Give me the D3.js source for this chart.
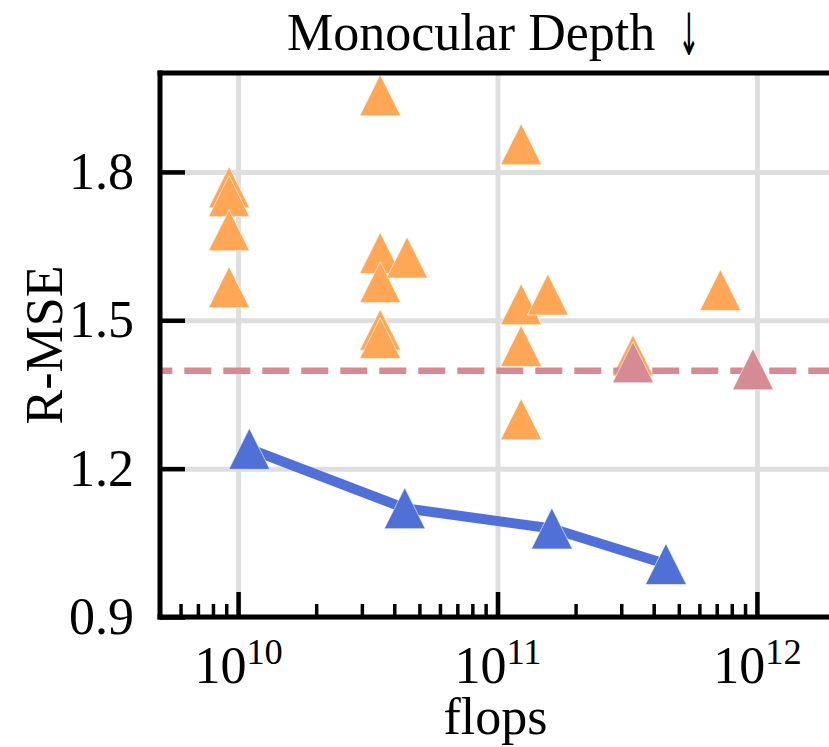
<!DOCTYPE html>
<html><head><meta charset="utf-8">
<script src="https://cdn.jsdelivr.net/npm/d3@7"></script>
<style>
body{margin:0;background:#fff;}
text{font-family:"Liberation Serif","Times New Roman",serif;fill:#000;}
</style>
</head><body>
<svg id="c" width="829" height="747"></svg>
<script>
// ---- data ----
const baselineFlops = [3.53e10, 9.23e9, 9.23e9, 9.23e9, 9.23e9, 3.53e10, 3.53e10, 3.53e10, 3.53e10, 4.48e10,
                       1.233e11, 1.233e11, 1.233e11, 1.233e11, 1.563e11, 3.33e11, 7.23e11];
const baselineRmse  = [1.955, 1.769, 1.751, 1.682, 1.567, 1.636, 1.577, 1.481, 1.464, 1.627,
                       1.856, 1.5325, 1.448, 1.300, 1.552, 1.429, 1.561];
const refFlops = [3.33e11, 9.66e11];
const refRmse  = [1.415, 1.401];
const refLineValue = 1.398;
const oursFlops = [1.105e10, 4.39e10, 1.62e11, 4.46e11];
const oursRmse  = [1.240, 1.120, 1.079, 1.007];
const xMajorTicks = [1e10, 1e11, 1e12];
const xTickExponents = ["10", "11", "12"];
const xMinorTicks = [6e9,7e9,8e9,9e9, 2e10,3e10,4e10,5e10,6e10,7e10,8e10,9e10,
                     2e11,3e11,4e11,5e11,6e11,7e11,8e11,9e11];
const yTicks = [0.9, 1.2, 1.5, 1.8];
const yTickLabels = ["0.9", "1.2", "1.5", "1.8"];
const titleText = "Monocular Depth";
const titleArrow = "\u2193";
const xLabel = "flops";
const yLabel = "R-MSE";

// ---- layout ----
const L = 160, R = 835, T = 73, B = 617;
const svg = d3.select("#c");
const x = d3.scaleLog().domain([5e9, 2e12]).range([L, R]);
const y = d3.scaleLinear().domain([0.9, 2.0]).range([B, T]);

const C = {orange:"#ffa756", pink:"#d58a94", blue:"#5170d7", grid:"#dedede"};
const FS = 52;

// grid
const gx = svg.append("g").attr("transform",`translate(0,${B})`)
  .call(d3.axisBottom(x).tickValues(xMajorTicks).tickSize(-(B-T)).tickFormat(""));
gx.select(".domain").remove();
gx.selectAll("line").attr("stroke",C.grid).attr("stroke-width",5);
const gy = svg.append("g").attr("transform",`translate(${L},0)`)
  .call(d3.axisLeft(y).tickValues(yTicks).tickSize(-(R-L)).tickFormat(""));
gy.select(".domain").remove();
gy.selectAll("line").attr("stroke",C.grid).attr("stroke-width",5);

// triangle marker path (width = height = 2h, centred midway)
const h = 20.5;
const tri = `M0,${-h}L${h},${h}L${-h},${h}Z`;

// baseline scatter
svg.append("g").selectAll("path").data(baselineFlops.map((f,i)=>[f,baselineRmse[i]]))
  .join("path").attr("d",tri)
  .attr("transform",d=>`translate(${x(d[0])},${y(d[1])})`)
  .attr("fill",C.orange).attr("stroke","#fff").attr("stroke-width",0.6);

// reference dashed line + markers
svg.append("line").attr("x1",L).attr("x2",R).attr("y1",y(refLineValue)).attr("y2",y(refLineValue))
  .attr("stroke",C.pink).attr("stroke-width",6.5).attr("stroke-dasharray","27,12").attr("stroke-dashoffset",14.7);
svg.append("g").selectAll("path").data(refFlops.map((f,i)=>[f,refRmse[i]]))
  .join("path").attr("d",tri)
  .attr("transform",d=>`translate(${x(d[0])},${y(d[1])})`)
  .attr("fill",C.pink).attr("stroke","#fff").attr("stroke-width",0.6);

// ours line + markers
const oursData = oursFlops.map((f,i)=>[f,oursRmse[i]]);
svg.append("path").datum(oursData)
  .attr("d",d3.line().x(d=>x(d[0])).y(d=>y(d[1])))
  .attr("fill","none").attr("stroke",C.blue).attr("stroke-width",10).attr("stroke-linejoin","round");
svg.append("g").selectAll("path").data(oursData)
  .join("path").attr("d",tri)
  .attr("transform",d=>`translate(${x(d[0])},${y(d[1])})`)
  .attr("fill",C.blue).attr("stroke","#fff").attr("stroke-width",0.6);

// axes ticks
const ax = svg.append("g").attr("transform",`translate(0,${B})`)
  .call(d3.axisBottom(x).tickValues(xMajorTicks).tickSize(-25).tickFormat(""));
ax.select(".domain").remove();
ax.selectAll("line").attr("stroke","#000").attr("stroke-width",4.5);
ax.selectAll(".tick").each(function(d,i){
  const t = d3.select(this).append("text").attr("y",66).attr("text-anchor","middle")
    .attr("font-size",FS);
  t.append("tspan").text("10");
  t.append("tspan").attr("font-size",FS*0.7).attr("dy",-19).text(xTickExponents[i]);
});
const axm = svg.append("g").attr("transform",`translate(0,${B})`)
  .call(d3.axisBottom(x).tickValues(xMinorTicks).tickSize(-13).tickFormat(""));
axm.select(".domain").remove();
axm.selectAll("line").attr("stroke","#000").attr("stroke-width",3.5);

const ay = svg.append("g").attr("transform",`translate(${L},0)`)
  .call(d3.axisLeft(y).tickValues(yTicks).tickSize(-25).tickPadding(26).tickFormat((d,i)=>yTickLabels[i]));
ay.select(".domain").remove();
ay.selectAll("line").attr("stroke","#000").attr("stroke-width",4.5);
ay.selectAll("text").attr("font-size",FS).attr("font-family",null);

// spines
const sp = svg.append("g").attr("stroke","#000").attr("stroke-width",5).attr("stroke-linecap","square");
sp.append("line").attr("x1",L).attr("x2",L).attr("y1",T).attr("y2",B);
sp.append("line").attr("x1",L).attr("x2",R).attr("y1",B).attr("y2",B);
sp.append("line").attr("x1",L).attr("x2",R).attr("y1",T).attr("y2",T);
sp.append("line").attr("x1",R).attr("x2",R).attr("y1",T).attr("y2",B);

// labels
svg.append("text").attr("x",287).attr("y",49.5).attr("text-anchor","start").attr("font-size",FS).text(titleText);
svg.append("text").attr("transform","translate(689,55) scale(0.5,1.12)").attr("text-anchor","middle")
  .style("font-family","'DejaVu Sans'").attr("font-size",52).text(titleArrow);
svg.append("text").attr("x",(L+R)/2 - 2).attr("y",734).attr("text-anchor","middle").attr("font-size",FS).text(xLabel);
svg.append("text").attr("transform",`translate(62,${(T+B)/2}) rotate(-90)`).attr("text-anchor","middle").attr("font-size",FS).text(yLabel);
</script>
</body></html>
